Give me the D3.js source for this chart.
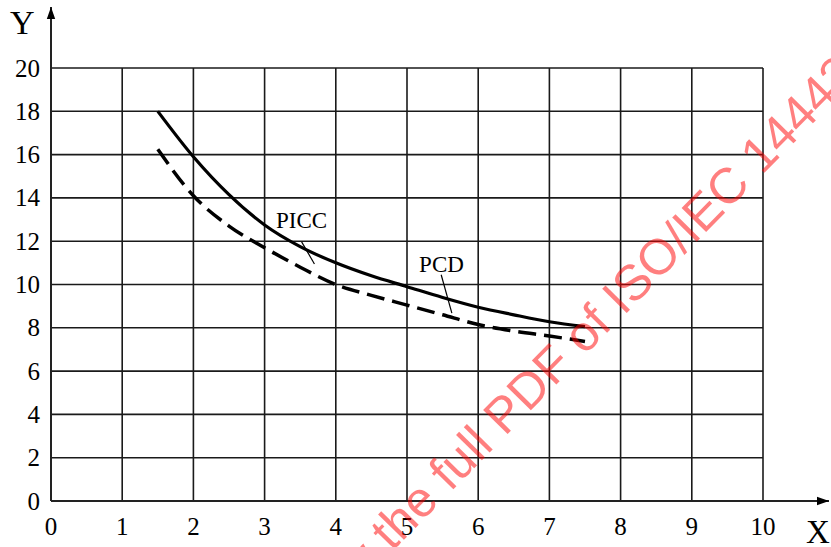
<!DOCTYPE html>
<html>
<head>
<meta charset="utf-8">
<script src="https://cdn.jsdelivr.net/npm/d3@7"></script>
<style>
  body { margin: 0; background: #fff; }
  svg text { font-family: "Liberation Serif", "DejaVu Serif", serif; }
</style>
</head>
<body>
<div id="content"></div>
<script>
// data
var xTicks = [0, 1, 2, 3, 4, 5, 6, 7, 8, 9, 10];
var yTicks = [0, 2, 4, 6, 8, 10, 12, 14, 16, 18, 20];
var piccX = [1.5, 2, 2.5, 3, 3.5, 4, 4.5, 5, 5.5, 6, 6.5, 7, 7.5];
var piccY = [18, 15.9, 14.15, 12.75, 11.75, 11.0, 10.4, 9.9, 9.4, 8.95, 8.6, 8.28, 8.05];
var pcdX = [1.5, 2, 2.5, 3, 3.5, 4, 4.5, 5, 5.5, 6, 6.5, 7, 7.5];
var pcdY = [16.25, 14.1, 12.7, 11.7, 10.8, 10.0, 9.5, 9.05, 8.6, 8.15, 7.85, 7.62, 7.37];
var labels = [
  {name: "PICC", tx: 3.16, ty: 12.6, lx1: 3.52, ly1: 11.97, lx2: 3.70, ly2: 10.95},
  {name: "PCD", tx: 5.17, ty: 10.58, lx1: 5.48, ly1: 10.45, lx2: 5.63, ly2: 8.68}
];

var W = 831, H = 547;
var x = d3.scaleLinear().domain([0, 10]).range([51, 763]);
var y = d3.scaleLinear().domain([0, 20]).range([501, 68]);

var svg = d3.select("#content").append("svg")
    .attr("width", W)
    .attr("height", H);

// grid
svg.append("g").selectAll("line").data(xTicks.slice(1)).enter().append("line")
    .attr("x1", d => x(d)).attr("x2", d => x(d))
    .attr("y1", y(0)).attr("y2", y(20))
    .attr("stroke", "#1a1a1a").attr("stroke-width", 1.6);
svg.append("g").selectAll("line").data(yTicks.slice(1)).enter().append("line")
    .attr("x1", x(0)).attr("x2", x(10))
    .attr("y1", d => y(d)).attr("y2", d => y(d))
    .attr("stroke", "#1a1a1a").attr("stroke-width", 1.6);

// arrows
var defs = svg.append("defs");
defs.append("marker").attr("id", "arr")
    .attr("viewBox", "0 0 10 10").attr("refX", 10).attr("refY", 5)
    .attr("markerWidth", 12).attr("markerHeight", 12)
    .attr("markerUnits", "userSpaceOnUse")
    .attr("orient", "auto")
  .append("path").attr("d", "M0,1.5 L10,5 L0,8.5 Z").attr("fill", "#000");

// axes
svg.append("line")
    .attr("x1", x(0)).attr("y1", y(0)).attr("x2", 829).attr("y2", y(0))
    .attr("stroke", "#222").attr("stroke-width", 2)
    .attr("marker-end", "url(#arr)");
svg.append("line")
    .attr("x1", x(0)).attr("y1", y(0)).attr("x2", x(0)).attr("y2", 7)
    .attr("stroke", "#222").attr("stroke-width", 2)
    .attr("marker-end", "url(#arr)");

// tick labels
svg.append("g").selectAll("text").data(xTicks).enter().append("text")
    .attr("x", d => x(d)).attr("y", 535)
    .attr("text-anchor", "middle")
    .attr("font-size", 25)
    .text(d => d);
svg.append("g").selectAll("text").data(yTicks).enter().append("text")
    .attr("x", 40).attr("y", d => y(d) + 8.5)
    .attr("text-anchor", "end")
    .attr("font-size", 25)
    .text(d => d);

svg.append("text").attr("x", 10).attr("y", 34).attr("font-size", 34).text("Y");
svg.append("text").attr("x", 806).attr("y", 543).attr("font-size", 33).text("X");

// curves
var line = d3.line()
    .x(d => x(d[0]))
    .y(d => y(d[1]))
    .curve(d3.curveMonotoneX);

svg.append("path")
    .datum(d3.zip(piccX, piccY))
    .attr("d", line)
    .attr("fill", "none").attr("stroke", "#000").attr("stroke-width", 3.2);
svg.append("path")
    .datum(d3.zip(pcdX, pcdY))
    .attr("d", line)
    .attr("fill", "none").attr("stroke", "#000").attr("stroke-width", 3.5)
    .attr("stroke-dasharray", "18,8");

// curve labels with leader lines
labels.forEach(function(l) {
  svg.append("text").attr("x", x(l.tx)).attr("y", y(l.ty))
      .attr("font-size", 23).text(l.name);
  svg.append("line")
      .attr("x1", x(l.lx1)).attr("y1", y(l.ly1))
      .attr("x2", x(l.lx2)).attr("y2", y(l.ly2))
      .attr("stroke", "#000").attr("stroke-width", 1.2);
});

// watermark
var wmPrefix = "Click to view ";
var wm = svg.append("g").attr("transform", "translate(382,562) rotate(-45.5)");
var tmp = wm.append("text").attr("font-size", 50)
    .style("font-family", "'Liberation Sans', Arial, sans-serif").text(wmPrefix);
var off = tmp.node().getComputedTextLength();
tmp.remove();
wm.append("text")
    .attr("x", -off).attr("y", 0)
    .attr("font-size", 50)
    .style("font-family", "'Liberation Sans', Arial, sans-serif")
    .attr("fill", "#ff0000").attr("fill-opacity", 0.5)
    .text(wmPrefix + "the full PDF of ISO/IEC 14443-2:2016");
</script>
</body>
</html>
